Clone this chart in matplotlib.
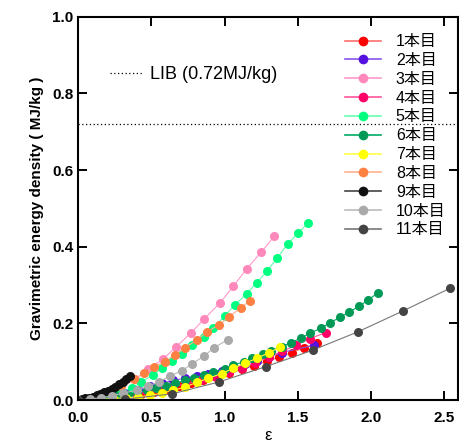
import matplotlib
matplotlib.use("Agg")
import matplotlib.pyplot as plt
from matplotlib.lines import Line2D

plt.rcParams["font.family"] = ["Liberation Sans", "Noto Sans CJK JP", "DejaVu Sans"]

labels = ["1本目", "2本目", "3本目", "4本目", "5本目", "6本目",
          "7本目", "8本目", "9本目", "10本目", "11本目"]

eps_1 = [0, 0.08, 0.17, 0.25, 0.35, 0.43, 0.52, 0.60, 0.69, 0.77, 0.85, 0.94, 1.03, 1.12, 1.20, 1.29, 1.37, 1.46, 1.54, 1.63]
ged_1 = [0, 0.002, 0.004, 0.007, 0.011, 0.016, 0.022, 0.029, 0.036, 0.044, 0.052, 0.061, 0.070, 0.080, 0.090, 0.101, 0.112, 0.124, 0.136, 0.148]

eps_2 = [0, 0.08, 0.16, 0.24, 0.33, 0.41, 0.49, 0.57, 0.65, 0.73, 0.81, 0.89, 0.98, 1.06, 1.14, 1.22, 1.30, 1.39, 1.61]
ged_2 = [0, 0.002, 0.006, 0.012, 0.019, 0.027, 0.036, 0.044, 0.051, 0.057, 0.063, 0.069, 0.076, 0.084, 0.093, 0.102, 0.112, 0.124, 0.143]

eps_3 = [0, 0.09, 0.19, 0.28, 0.39, 0.48, 0.58, 0.67, 0.77, 0.86, 0.97, 1.06, 1.15, 1.25, 1.34]
ged_3 = [0, 0.005, 0.015, 0.030, 0.055, 0.080, 0.107, 0.139, 0.175, 0.211, 0.254, 0.297, 0.342, 0.386, 0.428]

eps_4 = [0, 0.09, 0.18, 0.28, 0.38, 0.47, 0.56, 0.65, 0.74, 0.84, 0.93, 1.03, 1.12, 1.21, 1.30, 1.39, 1.49, 1.58, 1.69]
ged_4 = [0, 0.002, 0.005, 0.009, 0.014, 0.020, 0.027, 0.035, 0.043, 0.052, 0.062, 0.072, 0.084, 0.097, 0.112, 0.127, 0.143, 0.160, 0.176]

eps_5 = [0, 0.07, 0.14, 0.21, 0.28, 0.37, 0.43, 0.51, 0.57, 0.64, 0.71, 0.78, 0.86, 0.92, 1.00, 1.07, 1.15, 1.22, 1.29, 1.36, 1.43, 1.50, 1.57]
ged_5 = [0, 0.002, 0.006, 0.012, 0.020, 0.031, 0.047, 0.065, 0.083, 0.101, 0.120, 0.144, 0.165, 0.188, 0.219, 0.248, 0.277, 0.306, 0.337, 0.371, 0.407, 0.435, 0.462]

eps_6 = [0, 0.07, 0.13, 0.20, 0.26, 0.34, 0.40, 0.47, 0.53, 0.60, 0.66, 0.73, 0.79, 0.86, 0.92, 1.00,
         1.06, 1.13, 1.19, 1.26, 1.32, 1.39, 1.45, 1.52, 1.58, 1.66, 1.72, 1.79, 1.85, 1.92, 1.98, 2.05]
ged_6 = [0, 0.001, 0.003, 0.006, 0.010, 0.014, 0.019, 0.025, 0.031, 0.037, 0.044, 0.051, 0.058, 0.065, 0.073, 0.082,
         0.091, 0.100, 0.110, 0.119, 0.129, 0.139, 0.150, 0.161, 0.174, 0.188, 0.202, 0.216, 0.230, 0.245, 0.262, 0.280]

eps_7 = [0, 0.08, 0.16, 0.24, 0.33, 0.41, 0.49, 0.57, 0.65, 0.73, 0.81, 0.89, 0.98, 1.06, 1.14, 1.22, 1.30, 1.38]
ged_7 = [0, 0.001, 0.002, 0.004, 0.006, 0.008, 0.012, 0.018, 0.025, 0.034, 0.046, 0.057, 0.069, 0.083, 0.096, 0.109, 0.123, 0.138]

eps_8 = [0, 0.07, 0.15, 0.22, 0.29, 0.38, 0.45, 0.52, 0.59, 0.66, 0.73, 0.81, 0.88, 0.96, 1.03, 1.11, 1.17]
ged_8 = [0, 0.003, 0.010, 0.020, 0.036, 0.054, 0.070, 0.087, 0.100, 0.117, 0.136, 0.157, 0.178, 0.196, 0.217, 0.240, 0.258]

eps_9 = [0, 0.025, 0.05, 0.075, 0.10, 0.127, 0.152, 0.178, 0.203, 0.229, 0.254, 0.28, 0.305, 0.33, 0.356]
ged_9 = [0, 0.002, 0.004, 0.006, 0.009, 0.012, 0.016, 0.020, 0.024, 0.029, 0.035, 0.041, 0.048, 0.056, 0.064]

eps_10 = [0, 0.08, 0.16, 0.23, 0.31, 0.40, 0.48, 0.55, 0.63, 0.71, 0.78, 0.86, 0.93, 1.02]
ged_10 = [0, 0.003, 0.006, 0.011, 0.018, 0.026, 0.037, 0.047, 0.063, 0.077, 0.095, 0.115, 0.137, 0.157]

eps_11 = [0, 0.32, 0.64, 0.96, 1.28, 1.60, 1.91, 2.22, 2.54]
ged_11 = [0, 0.002, 0.016, 0.047, 0.087, 0.130, 0.178, 0.233, 0.292]

lib_density = 0.72

eps_all = [eps_1, eps_2, eps_3, eps_4, eps_5, eps_6, eps_7, eps_8, eps_9, eps_10, eps_11]
ged_all = [ged_1, ged_2, ged_3, ged_4, ged_5, ged_6, ged_7, ged_8, ged_9, ged_10, ged_11]

marker_colors = ["#FF0000", "#5511DD", "#FF88BB", "#FF0066", "#00FF80", "#009955",
                 "#FFFF00", "#FF8040", "#111111", "#AAAAAA", "#444444"]
line_colors = ["#FF7070", "#8855EE", "#FF99CC", "#FF5599", "#66FFB0", "#00AA66",
               "#FFFF44", "#FFB090", "#444444", "#BBBBBB", "#777777"]

fig = plt.figure(figsize=(4.59, 4.43), dpi=100)
ax = fig.add_axes([0.170, 0.097, 0.827, 0.865])

handles = []
for x, y, label, mc, lc in zip(eps_all, ged_all, labels, marker_colors, line_colors):
    ax.plot(x, y, "-", color=lc, lw=0.8)
    ax.plot(x, y, "o", color=mc, ms=6.5, mec="none")
    handles.append(Line2D([], [], color=lc, lw=1.2, marker="o", ms=7,
                          markerfacecolor=mc, markeredgecolor="none"))

ax.axhline(lib_density, color="black", ls=(0, (1, 2)), lw=0.9)

ax.set_xlim(0, 2.59)
ax.set_ylim(0, 1.0)
ax.set_xticks([0, 0.5, 1.0, 1.5, 2.0, 2.5])
ax.set_yticks([0, 0.2, 0.4, 0.6, 0.8, 1.0])
ax.xaxis.set_major_formatter(plt.FormatStrFormatter("%.1f"))
ax.yaxis.set_major_formatter(plt.FormatStrFormatter("%.1f"))
ax.tick_params(direction="in", top=True, right=True, length=6.5, width=1.4, labelsize=11)
ax.tick_params(axis="x", pad=8)
ax.tick_params(axis="y", pad=3.5)
for lab in ax.get_xticklabels() + ax.get_yticklabels():
    lab.set_fontweight("bold")
for sp in ax.spines.values():
    sp.set_linewidth(1.5)

ax.set_xlabel("ε", fontsize=12, labelpad=2)
ax.set_ylabel("Gravimetric energy density ( MJ/kg )", fontsize=11, fontweight="bold", labelpad=6)

leg = ax.legend(handles, labels, loc="upper left", bbox_to_anchor=(0.673, 0.984),
                frameon=False, fontsize=11.5, handlelength=2.3, handletextpad=0.9,
                labelspacing=0.24, borderaxespad=0.3)
ax.add_artist(leg)

lib_handle = Line2D([], [], color="black", ls=(0, (1, 2)), lw=0.9)
ax.legend([lib_handle], ["LIB (0.72MJ/kg)"], loc="upper left", bbox_to_anchor=(0.042, 0.913),
          frameon=False, fontsize=13, handlelength=1.8, handletextpad=0.4)

fig.savefig("out.png", dpi=100)
